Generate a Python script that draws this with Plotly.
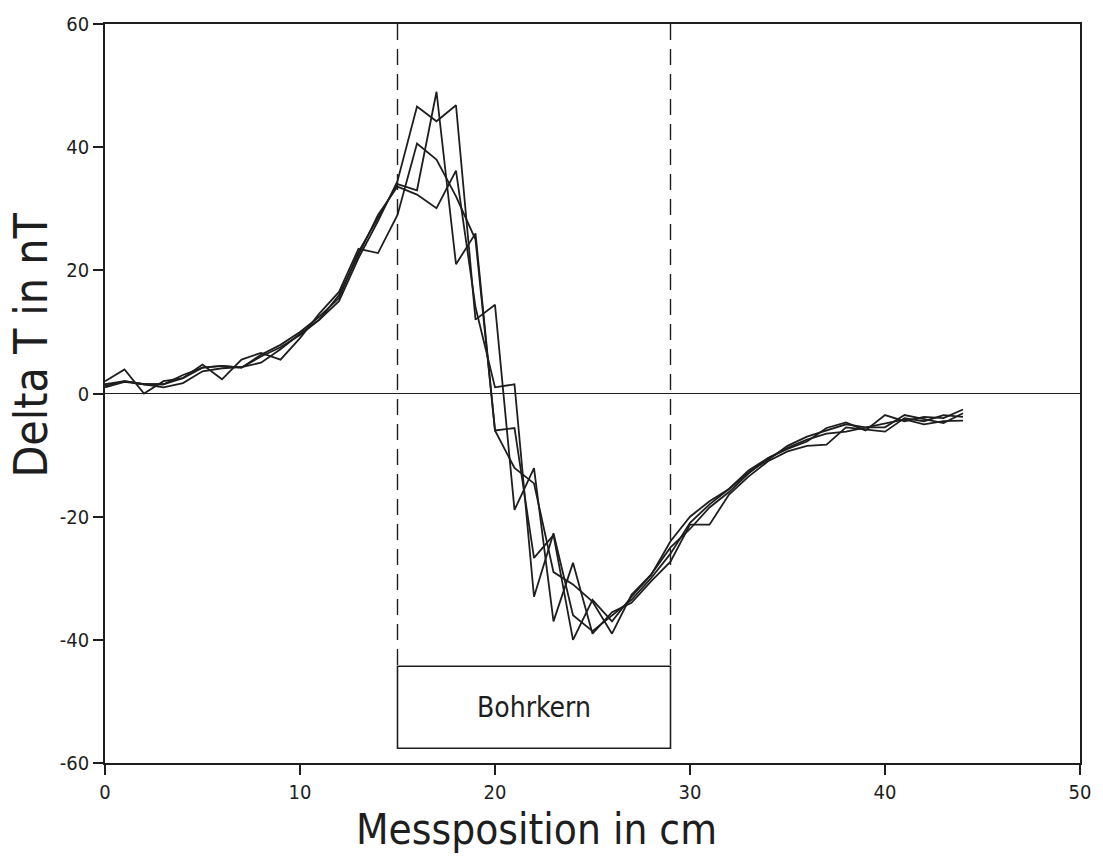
import plotly.graph_objects as go

positions = list(range(0, 45))

run_a = [1.5, 2, 1.5, 1.5, 2.5, 4.2, 4.5, 4.2, 6.3, 7.9, 10, 12.5, 15.5, 23, 28.5, 34, 33, 49, 21, 26,
         -6, -5.6, -26.7, -23, -40, -33.5, -37, -33, -29.5, -24, -20, -17.5, -15.5, -12.5, -10.5, -9,
         -7.8, -5.6, -4.7, -6, -3.5, -4.5, -3.8, -4, -2.6]
run_b = [1, 1.9, 1.5, 1, 1.7, 3.6, 4.1, 4.3, 5, 7.2, 9.7, 12, 15, 22, 28, 34.5, 46.6, 44.2, 46.8, 12,
         14.4, -18.9, -12.1, -37, -27.5, -39, -35.5, -34, -30.5, -27.3, -21.3, -21.3, -16.4, -13.5, -11,
         -9.4, -8.5, -8.3, -5.5, -5.8, -6.2, -4, -4.5, -3.5, -3.8]
run_c = [2, 3.9, 0, 2, 2.5, 4.7, 2.3, 5.5, 6.6, 5.5, 9, 13, 16.5, 23.5, 22.8, 29, 40.6, 38, 32, 25,
         -6, -12.1, -14.6, -29, -31, -33.8, -39, -32.7, -29.4, -25, -22, -18.5, -16, -13, -10.5, -8.8,
         -7.5, -6.5, -6.2, -5.5, -4.8, -4.2, -5, -4.5, -4.4]
run_d = [1.2, 2, 1.5, 1.5, 3, 4.2, 4.5, 4.2, 6, 7.5, 9.5, 12, 16, 22.5, 29, 33.6, 32.3, 30.1, 36.2, 14,
         1, 1.5, -33, -22.7, -36, -38.6, -36, -33.5, -30, -26, -21, -18, -15.5, -12.8, -10.8, -8.5,
         -7, -6, -5, -5.5, -5.5, -3.5, -4.2, -4.8, -3.2]

core_start = 15
core_end = 29
core_label = "Bohrkern"
x_ticks = [0, 10, 20, 30, 40, 50]
x_tick_text = ["0", "10", "20", "30", "40", "50"]
y_ticks = [-60, -40, -20, 0, 20, 40, 60]
y_tick_text = ["-60", "-40", "-20", "0", "20", "40", "60"]

FONT = "DejaVu Sans Condensed, DejaVu Sans, sans-serif"
INK = "#1e1e1e"

fig = go.Figure()
for run in (run_a, run_b, run_c, run_d):
    fig.add_trace(go.Scatter(x=positions, y=run, mode="lines",
                             line=dict(color=INK, width=1.8), showlegend=False,
                             hoverinfo="skip"))

# zero line
fig.add_shape(type="line", xref="x", yref="y", x0=0, x1=50, y0=0, y1=0,
              line=dict(color=INK, width=1.2))
# dashed core boundaries
box_top, box_bottom = -44.3, -57.6
for xv in (core_start, core_end):
    fig.add_shape(type="line", xref="x", yref="y", x0=xv, x1=xv, y0=60, y1=box_top,
                  line=dict(color=INK, width=1.4, dash="16px,9px"))
fig.add_shape(type="rect", xref="x", yref="y", x0=core_start, x1=core_end,
              y0=box_bottom, y1=box_top, line=dict(color=INK, width=1.6))
fig.add_annotation(x=(core_start + core_end) / 2, y=(box_top + box_bottom) / 2,
                   xref="x", yref="y", text=core_label, showarrow=False,
                   font=dict(family=FONT, size=28, color=INK))

# axis titles as paper annotations
fig.add_annotation(x=(540 - 105) / (1088 - 105), y=-(829 - 763) / (763 - 24),
                   xref="paper", yref="paper", text="Messposition in cm",
                   showarrow=False, xanchor="center", yanchor="middle",
                   font=dict(family=FONT, size=42, color=INK))
fig.add_annotation(x=-(105 - 30) / (1088 - 105), y=(763 - 345) / (763 - 24),
                   xref="paper", yref="paper", text="Delta T in nT", textangle=-90,
                   showarrow=False, xanchor="center", yanchor="middle",
                   font=dict(family=FONT, size=46, color=INK))

fig.update_xaxes(range=[0, 50], tickvals=x_ticks, ticktext=x_tick_text, ticks="outside",
                 ticklen=10, tickwidth=1.5, tickcolor=INK, showline=True, linecolor=INK,
                 linewidth=1.6, mirror=True, showgrid=False, zeroline=False,
                 tickfont=dict(family=FONT, size=20, color=INK))
fig.update_yaxes(range=[-60, 60], tickvals=y_ticks, ticktext=y_tick_text, ticks="outside",
                 ticklen=10, tickwidth=1.5, tickcolor=INK, showline=True, linecolor=INK,
                 linewidth=1.6, mirror=True, showgrid=False, zeroline=False,
                 tickfont=dict(family=FONT, size=20, color=INK))

fig.update_layout(width=1103, height=856, paper_bgcolor="white", plot_bgcolor="white",
                  margin=dict(l=105, r=15, t=24, b=93), showlegend=False)

fig.write_html("out.html")
